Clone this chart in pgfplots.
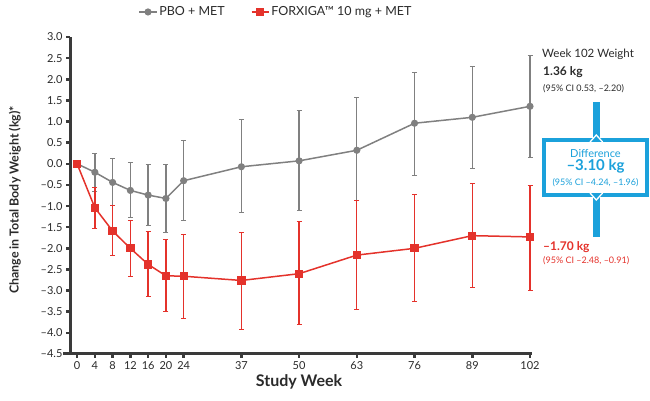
\documentclass[border=0pt]{standalone}
\usepackage{pgfplots}
\pgfplotsset{compat=1.18}
\usepackage{fontspec}
\setmainfont{Lato}
\definecolor{pgray}{HTML}{808080}
\definecolor{fred}{HTML}{E4322B}
\definecolor{dcyan}{HTML}{1BA1DB}
\definecolor{axgray}{HTML}{3A3A3A}
\definecolor{txt}{HTML}{2A2A2A}

\pgfplotstableread{
x y ep em
0 0 0 0
4 -0.20 0.45 0.45
8 -0.44 0.57 0.55
12 -0.63 0.65 0.65
16 -0.74 0.73 0.73
20 -0.82 0.81 0.81
24 -0.40 0.94 0.93
37 -0.07 1.11 1.09
50 0.07 1.18 1.17
63 0.32 1.25 1.20
76 0.96 1.21 1.24
89 1.10 1.21 1.22
102 1.36 1.21 1.20
}\pbo

\pgfplotstableread{
x y ep em
0 0 0 0
4 -1.04 0.47 0.48
8 -1.59 0.60 0.59
12 -2.00 0.67 0.66
16 -2.38 0.79 0.76
20 -2.65 0.86 0.85
24 -2.66 0.99 0.99
37 -2.76 1.14 1.16
50 -2.60 1.23 1.20
63 -2.16 1.28 1.28
76 -2.00 1.27 1.25
89 -1.70 1.24 1.22
102 -1.73 1.21 1.27
}\dapa

\begin{document}
\begin{tikzpicture}[x=1pt,y=1pt]
\useasboundingbox (0,0) rectangle (650,401);
\begin{axis}[
  at={(70pt,47pt)}, anchor=south west,
  scale only axis, width=460pt, height=317pt,
  xmin=-1.6, xmax=102, ymin=-4.5, ymax=3.0,
  axis x line*=bottom, axis y line*=left,
  axis line style={-, line width=3pt, axgray},
  x axis line style={shorten <=-7pt, shorten >=-2pt},
  xtick={0,4,8,12,16,20,24,37,50,63,76,89,102},
  ytick={-4.5,-4.0,-3.5,-3.0,-2.5,-2.0,-1.5,-1.0,-0.5,0,0.5,1.0,1.5,2.0,2.5,3.0},
  yticklabels={–4.5,–4.0,–3.5,–3.0,–2.5,–2.0,–1.5,–1.0,–0.5,0.0,0.5,1.0,1.5,2.0,2.5,3.0},
  tick align=outside, major tick length=4pt,
  tick style={line width=2.5pt, axgray},
  ticklabel style={font=\fontsize{11}{12}\selectfont, text=txt},
  /pgf/number format/assume math mode=true,
  legend columns=2,
  legend style={draw=none, fill=none, at={(0.448,1.079)}, anchor=center,
    font=\fontsize{12.5}{14}\selectfont, text=txt,
    /tikz/every even column/.append style={column sep=24pt}},
  clip=false,
]
\addplot[pgray, line width=1.5pt, mark=*, mark size=2.8pt,
  mark options={fill=pgray, draw=pgray},
  error bars/.cd, y dir=both, y explicit,
  error bar style={line width=1.3pt, pgray},
  error mark options={rotate=90, mark size=2.5pt, line width=1pt, pgray}]
  table[x=x, y=y, y error plus=ep, y error minus=em]{\pbo};
\addlegendentry{PBO + MET}
\addplot[fred, line width=1.5pt, mark=square*, mark size=3.4pt,
  mark options={fill=fred, draw=fred},
  error bars/.cd, y dir=both, y explicit,
  error bar style={line width=1.3pt, fred},
  error mark options={rotate=90, mark size=2.5pt, line width=1pt, fred}]
  table[x=x, y=y, y error plus=ep, y error minus=em]{\dapa};
\addlegendentry{FORXIGA™ 10 mg + MET}
\end{axis}

% axis titles
\node[rotate=90, font=\bfseries\fontsize{12.4}{14}\selectfont, text=txt] at (15,201) {Change in Total Body Weight (kg)*};
\node[font=\bfseries\fontsize{16}{18}\selectfont, text=txt] at (299,19) {Study Week};

% right annotations
\node[anchor=west, inner sep=0, font=\fontsize{11.5}{13}\selectfont, text=txt] at (542,347) {Week 102 Weight};
\node[anchor=west, inner sep=0, font=\bfseries\fontsize{12}{14}\selectfont, text=txt] at (543,329) {1.36 kg};
\node[anchor=west, inner sep=0, font=\fontsize{9}{11}\selectfont, text=txt] at (543,312) {(95\% CI 0.53, –2.20)};

% difference box
\fill[dcyan] (592.5,164.3) rectangle (600,299.3);
\draw[dcyan, line width=4pt, fill=white] (543.7,206.3) rectangle (647.3,260.7);
\draw[white, line width=1.3pt] (590,259) -- (596.3,266) -- (602.6,259);
\draw[white, line width=1.3pt] (590,208) -- (596.3,201) -- (602.6,208);
\node[font=\fontsize{11}{13}\selectfont, text=dcyan] at (595.5,247.7) {Difference};
\node[font=\bfseries\fontsize{15}{17}\selectfont, text=dcyan] at (595.5,234.3) {–3.10 kg};
\node[font=\fontsize{9}{11}\selectfont, text=dcyan] at (595.5,218.7) {(95\% CI –4.24, –1.96)};

\node[anchor=west, inner sep=0, font=\bfseries\fontsize{12}{14}\selectfont, text=fred] at (543,154.3) {–1.70 kg};
\node[anchor=west, inner sep=0, font=\fontsize{9}{11}\selectfont, text=fred] at (543,140) {(95\% CI –2.48, –0.91)};
\end{tikzpicture}
\end{document}
